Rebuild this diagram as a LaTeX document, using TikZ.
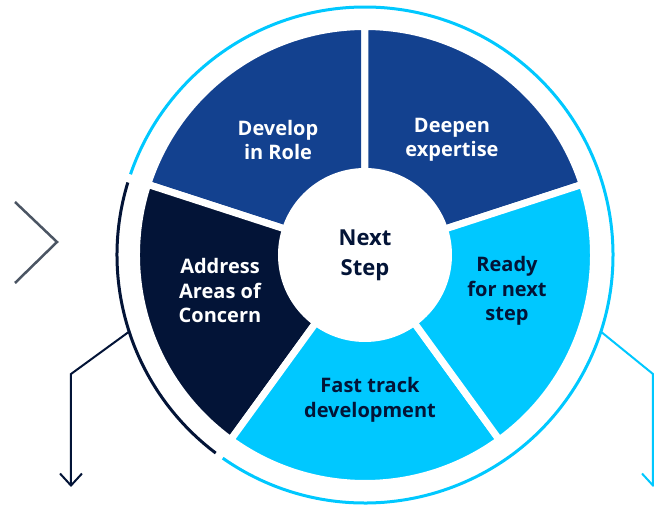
\documentclass[tikz,border=0pt]{standalone}
\usepackage{fontspec}
\setmainfont{Open Sans}
\usetikzlibrary{arrows.meta}
\definecolor{nsblue}{HTML}{13418F}
\definecolor{nsnavy}{HTML}{031437}
\definecolor{nscyan}{HTML}{00C8FF}
\definecolor{nsgray}{HTML}{4B5563}

\begin{document}
\begin{tikzpicture}[
  x=1pt, y=1pt,
  every node/.style={font=\fontsize{20}{24.5}\selectfont\bfseries, align=center},
  wedge/.style={draw=white, line width=7pt},
  ringline/.style={line width=3pt},
  branch/.style={line width=2pt, -{Straight Barb[length=12pt, width=22pt, line width=2pt]}},
]
\useasboundingbox (-365,-253) rectangle (289,255);

% pie segments
\foreach \a/\b/\c in {90/162/nsblue, 18/90/nsblue, 162/234/nsnavy, 234/306/nscyan, -54/18/nscyan}
  \filldraw[wedge, fill=\c] (\a:60) -- (\a:228.5) arc[start angle=\a, end angle=\b, radius=228.5]
    -- (\b:60) arc[start angle=\b, end angle=\a, radius=60] -- cycle;

% centre
\node[circle, fill=white, minimum size=174pt, text=nsnavy, font=\fontsize{22}{30}\selectfont\bfseries] (nxt) at (0,0) {Next\\Step};

% labels
\node[text=white] (dev) at (-87,115) {Develop\\in Role};
\node[text=white] (dpn) at (87,115) {Deepen\\expertise};
\node[text=white] (adr) at (-145,-36) {Address\\Areas of\\Concern};
\node[text=nsnavy] (rdy) at (142,-36) {Ready\\for next\\step};
\node[text=nsnavy] (fst) at (5,-145) {Fast track\\development};

% outer ring
\draw[ringline, nscyan] (235:248) arc[start angle=235, end angle=521, radius=248];
\draw[ringline, nsnavy] (163:248) arc[start angle=163, end angle=233, radius=248];

% branches
\coordinate (lout) at (198:248);
\coordinate (lbend) at (-294,-119);
\coordinate (lend) at (-294,-232);
\coordinate (rout) at (-18:248);
\coordinate (rbend) at (288,-119);
\coordinate (rend) at (288,-232);
\draw[branch, nsnavy] (lout) -- (lbend) -- (lend);
\draw[branch, nscyan] (rout) -- (rbend) -- (rend);

% chevron
\draw[nsgray, line width=2.5pt] (-350,53) -- (-308,13) -- (-350,-28);
\end{tikzpicture}
\end{document}
